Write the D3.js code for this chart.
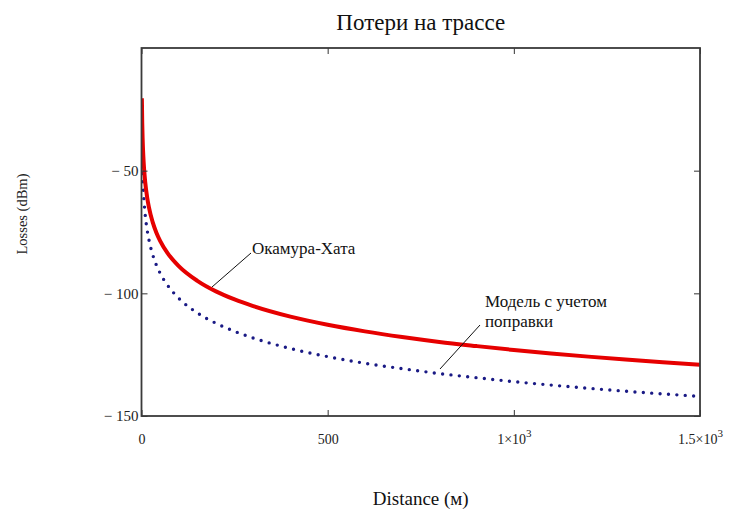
<!DOCTYPE html>
<html lang="ru">
<head>
<meta charset="UTF-8">
<script src="https://d3js.org/d3.v7.min.js"></script>
<title>Потери на трассе</title>
<style>
  body { margin: 0; background: #fff; }
  svg { display: block; font-family: "Liberation Serif", "Times New Roman", serif; }
</style>
</head>
<body>
<svg id="plot"></svg>
<script>
// distance samples (m) and losses (dBm)
const distance = [1, 2, 3, 5, 7, 10, 15, 20, 30, 40, 50, 70, 100, 150, 200, 250, 300, 400, 500, 600, 700, 800, 900, 1000, 1100, 1200, 1300, 1400, 1500];
const okamuraHata = [-20.5, -30.8, -36.8, -44.4, -49.4, -54.7, -60.7, -65, -71, -75.3, -78.6, -83.6, -88.9, -94.9, -99.2, -102.5, -105.2, -109.5, -112.8, -115.5, -117.8, -119.8, -121.5, -123.1, -124.5, -125.8, -127, -128.1, -129.1];
const corrected = [-34, -44.2, -50.2, -57.8, -62.7, -68, -74, -78.2, -84.2, -88.5, -91.8, -96.7, -102, -108, -112.2, -115.5, -118.2, -122.5, -125.8, -128.5, -130.7, -132.7, -134.4, -136, -137.4, -138.7, -139.9, -141, -142];

const xTicks = [0, 500, 1000, 1500];
const xTickText = ["0", "500", "1×10|3", "1.5×10|3"];
const yTicks = [-150, -100, -50];
const yTickText = ["\u2212 150", "\u2212 100", "\u2212 50"];

const width = 733, height = 509;
const margin = {top: 48, right: 33, bottom: 93, left: 141.5};

const svg = d3.select("#plot").attr("width", width).attr("height", height);

const x = d3.scaleLinear().domain([0, 1500]).range([margin.left, width - margin.right]);
const y = d3.scaleLinear().domain([-150, 0]).range([height - margin.bottom, margin.top]);

svg.append("defs").append("clipPath").attr("id", "clip")
  .append("rect")
  .attr("x", x(0)).attr("y", y(0))
  .attr("width", x(1500) - x(0)).attr("height", y(-150) - y(0));

const line = d3.line()
  .x(d => x(d[0]))
  .y(d => y(d[1]))
  .curve(d3.curveMonotoneX);

const plot = svg.append("g").attr("clip-path", "url(#clip)");

plot.append("path")
  .attr("d", line(distance.map((d, i) => [d, corrected[i]])))
  .attr("fill", "none")
  .attr("stroke", "#1a1a85")
  .attr("stroke-width", 3.4)
  .attr("stroke-linecap", "round")
  .attr("stroke-dasharray", "0 8.4");

plot.append("path")
  .attr("d", line(distance.map((d, i) => [d, okamuraHata[i]])))
  .attr("fill", "none")
  .attr("stroke", "#e60000")
  .attr("stroke-width", 4);

// axes: ticks point inward
const tickLen = 6;
const xAxis = d3.axisBottom(x).tickValues(xTicks).tickSize(-tickLen).tickPadding(18)
  .tickFormat(() => "");
const gx = svg.append("g").attr("transform", `translate(0,${y(-150)})`).call(xAxis);
gx.select(".domain").remove();
gx.selectAll(".tick line").attr("stroke", "#333");
gx.selectAll(".tick text").each(function(d, i) {
  const parts = xTickText[i].split("|");
  const t = d3.select(this).attr("font-size", 14).attr("font-family", "Liberation Serif").attr("fill", "#222");
  t.append("tspan").text(parts[0]);
  if (parts[1]) t.append("tspan").attr("dy", -7).attr("font-size", 11).text(parts[1]);
});

const xTop = d3.axisTop(x).tickValues(xTicks).tickSize(-tickLen).tickFormat("");
const gxt = svg.append("g").attr("transform", `translate(0,${y(0)})`).call(xTop);
gxt.select(".domain").remove();
gxt.selectAll(".tick line").attr("stroke", "#333");

const yAxis = d3.axisLeft(y).tickValues(yTicks).tickSize(-tickLen).tickPadding(3)
  .tickFormat((d, i) => yTickText[i]);
const gy = svg.append("g").attr("transform", `translate(${x(0)},0)`).call(yAxis);
gy.select(".domain").remove();
gy.selectAll(".tick line").attr("stroke", "#333");
gy.selectAll(".tick text").attr("font-size", 15).attr("font-family", "Liberation Serif").attr("fill", "#222");

const yRight = d3.axisRight(y).tickValues(yTicks).tickSize(-tickLen).tickFormat("");
const gyr = svg.append("g").attr("transform", `translate(${x(1500)},0)`).call(yRight);
gyr.select(".domain").remove();
gyr.selectAll(".tick line").attr("stroke", "#333");

// frame
svg.append("rect")
  .attr("x", x(0)).attr("y", y(0))
  .attr("width", x(1500) - x(0)).attr("height", y(-150) - y(0))
  .attr("fill", "none").attr("stroke", "#3a3a3a").attr("stroke-width", 1.8);

// title and axis labels
svg.append("text")
  .attr("x", (x(0) + x(1500)) / 2).attr("y", 30)
  .attr("text-anchor", "middle").attr("font-size", 23).attr("fill", "#111")
  .text("Потери на трассе");

svg.append("text")
  .attr("x", (x(0) + x(1500)) / 2).attr("y", 505)
  .attr("text-anchor", "middle").attr("font-size", 19).attr("fill", "#111")
  .text("Distance (м)");

svg.append("text")
  .attr("transform", `translate(27,214) rotate(-90)`)
  .attr("text-anchor", "middle").attr("font-size", 14.5).attr("fill", "#222")
  .text("Losses (dBm)");

// annotations with leader lines
svg.append("line")
  .attr("x1", 251).attr("y1", 253).attr("x2", 212).attr("y2", 287)
  .attr("stroke", "#111").attr("stroke-width", 1);
svg.append("text")
  .attr("x", 252).attr("y", 254).attr("font-size", 17).attr("fill", "#111")
  .text("Окамура-Хата");

svg.append("line")
  .attr("x1", 480).attr("y1", 325).attr("x2", 440).attr("y2", 369)
  .attr("stroke", "#111").attr("stroke-width", 1);
svg.append("text")
  .attr("x", 485).attr("y", 307).attr("font-size", 17).attr("fill", "#111")
  .text("Модель с учетом");
svg.append("text")
  .attr("x", 485).attr("y", 327).attr("font-size", 17).attr("fill", "#111")
  .text("поправки");
</script>
</body>
</html>
